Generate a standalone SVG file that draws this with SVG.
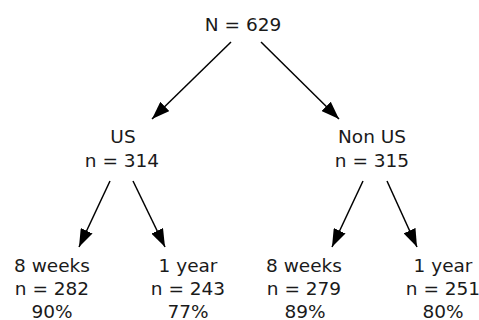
<svg xmlns="http://www.w3.org/2000/svg" width="479" height="320" viewBox="0 0 479 320">
<defs>
<marker id="ah" viewBox="0 0 10 10" refX="10" refY="5" markerWidth="18" markerHeight="13" markerUnits="userSpaceOnUse" orient="auto" preserveAspectRatio="none">
<path d="M0,0 L10,5 L0,10 Z" fill="#000"/>
</marker>
<style>
text{font-family:"DejaVu Sans","Liberation Sans",sans-serif;font-size:18.5px;fill:#1a1a1a;text-anchor:middle}
.c line{stroke:#000;stroke-width:1.5;marker-end:url(#ah)}
</style>
</defs>
<rect width="479" height="320" fill="#fff"/>
<g id="connectors" class="c">
<line x1="231" y1="42" x2="152" y2="119"/>
<line x1="261" y1="42" x2="339" y2="119"/>
<line x1="110" y1="181" x2="79" y2="247"/>
<line x1="133" y1="181" x2="165" y2="247"/>
<line x1="363" y1="181" x2="332" y2="247"/>
<line x1="387" y1="181" x2="417" y2="247"/>
</g>
<g id="root"><text x="243" y="31">N = 629</text></g>
<g id="us"><text x="123" y="143">US</text><text x="122" y="167">n = 314</text></g>
<g id="nonus"><text x="372" y="143">Non US</text><text x="372" y="167">n = 315</text></g>
<g id="us8w"><text x="52" y="272">8 weeks</text><text x="52" y="295">n = 282</text><text x="52" y="318">90%</text></g>
<g id="us1y"><text x="188" y="272">1 year</text><text x="188" y="295">n = 243</text><text x="188" y="318">77%</text></g>
<g id="nonus8w"><text x="304" y="272">8 weeks</text><text x="304" y="295">n = 279</text><text x="305" y="318">89%</text></g>
<g id="nonus1y"><text x="443" y="272">1 year</text><text x="443" y="295">n = 251</text><text x="443" y="318">80%</text></g>
</svg>
